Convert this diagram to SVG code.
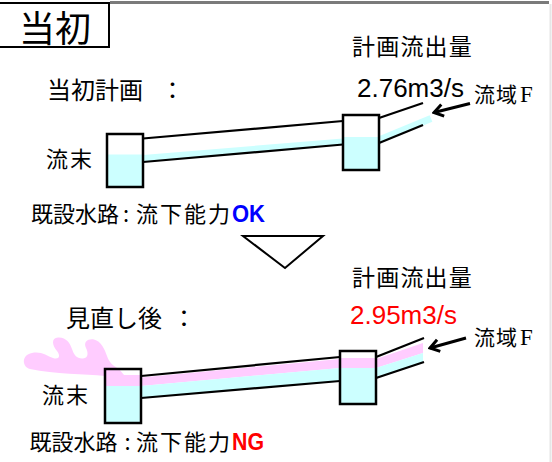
<svg xmlns="http://www.w3.org/2000/svg" width="552" height="462" viewBox="0 0 552 462">
  <style>
    .jp { font-family: "Noto Sans CJK JP", "Noto Sans", sans-serif; fill: #000; }
    .num { font-family: "Liberation Sans", Arial, sans-serif; }
    .serif { font-family: "Liberation Serif", "Times New Roman", serif; font-size: 23px; }
    .bold { font-family: "Liberation Sans", Arial, sans-serif; font-weight: bold; }
    .ln { stroke: #000; stroke-width: 2.2; fill: none; }
    .boxbg { fill: #fff; }
    .boxln { fill: none; stroke: #000; stroke-width: 2.5; }
    .cy { fill: #ccffff; }
    .pk { fill: #ffccff; }
    .arrow { stroke: #000; stroke-width: 3; fill: none; marker-end: url(#head); }
  </style>
  <defs>
    <marker id="head" markerUnits="userSpaceOnUse" viewBox="0 0 16 16" markerWidth="16" markerHeight="16" refX="14" refY="8" orient="auto">
      <path d="M5,2 L14,8 L5,14" fill="none" stroke="#000" stroke-width="3"/>
    </marker>
  </defs>

  <rect width="552" height="462" fill="#fff"/>
  <!-- frame -->
  <line x1="110" y1="2.5" x2="549" y2="2.5" stroke="#7a7a7a" stroke-width="3"/>
  <line x1="550.5" y1="4" x2="550.5" y2="462" stroke="#e6e6e6" stroke-width="2"/>

  <g id="title">
    <rect x="-2" y="3" width="111" height="44" fill="#fff" stroke="#000" stroke-width="2"/>
    <text class="jp" x="19" y="41.5" font-size="36">当初</text>
  </g>

  <!-- initial plan -->
  <g id="plan-initial">
    <text class="jp" x="47" y="98.5" font-size="24">当初計画 <tspan x="160.5">：</tspan></text>
    <text class="jp" x="352" y="54.5" font-size="23" letter-spacing="1.2">計画流出量</text>
    <text class="num" x="357" y="97" font-size="26">2.76m3/s</text>
    <text class="jp" x="474" y="102" font-size="21" letter-spacing="1">流域<tspan class="serif" x="520">F</tspan></text>
    <text class="jp" x="46" y="167" font-size="22" letter-spacing="2">流末</text>
    <text class="jp" y="222" font-size="22"><tspan x="31">既設水路</tspan><tspan x="123">:</tspan><tspan x="136" letter-spacing="2">流下能力</tspan><tspan class="bold" x="232" fill="#0000ff" font-size="24" textLength="33" lengthAdjust="spacingAndGlyphs">OK</tspan></text>
  </g>

  <g id="pipe-initial">
    <!-- water -->
    <polygon class="cy" points="143,155 343,138.5 343,144.5 143,162"/>
    <line x1="379" y1="140" x2="431" y2="118.4" stroke="#ccffff" stroke-width="7"/>
    <!-- walls -->
    <line class="ln" x1="143" y1="138.5" x2="343" y2="121"/>
    <line class="ln" x1="143" y1="162" x2="343" y2="144.5"/>
    <line class="ln" x1="379" y1="118" x2="423" y2="103"/>
    <line class="ln" x1="379" y1="143" x2="423" y2="125"/>
  </g>
  <g id="manhole-initial-down">
    <rect class="boxbg" x="107" y="134" width="36" height="53"/>
    <rect class="cy" x="107" y="154.5" width="36" height="32.5"/>
    <rect class="boxln" x="107" y="134" width="36" height="53"/>
  </g>
  <g id="manhole-initial-up">
    <rect class="boxbg" x="343" y="115" width="36" height="55"/>
    <rect class="cy" x="343" y="137" width="36" height="33"/>
    <rect class="boxln" x="343" y="115" width="36" height="55"/>
  </g>

  <g id="step">
    <polygon points="243,236 323,236 285,268" fill="#fff" stroke="#000" stroke-width="2"/>
  </g>

  <!-- revised plan -->
  <g id="plan-revised">
    <text class="jp" x="66" y="326.5" font-size="24">見直し後 <tspan x="172">：</tspan></text>
    <text class="jp" x="352" y="285.5" font-size="23" letter-spacing="1.2">計画流出量</text>
    <text class="num" x="350" y="324" font-size="26" fill="#ff0000">2.95m3/s</text>
    <text class="jp" x="474" y="345" font-size="21" letter-spacing="1">流域<tspan class="serif" x="520">F</tspan></text>
    <text class="jp" x="42" y="402.5" font-size="22" letter-spacing="2">流末</text>
    <text class="jp" y="449.5" font-size="22"><tspan x="29.5">既設水路</tspan><tspan x="124.5">:</tspan><tspan x="136" letter-spacing="2">流下能力</tspan><tspan class="bold" x="232" fill="#ff0000" font-size="24" textLength="32" lengthAdjust="spacingAndGlyphs">NG</tspan></text>
  </g>

  <g id="pipe-revised">
    <polygon class="pk" points="141,377.5 340,359 340,368 141,386"/>
    <polygon class="cy" points="141,386 340,368 340,381.5 141,398"/>
    <polygon class="pk" points="376,359 423,343 423,353 376,368"/>
    <polygon class="cy" points="376,368 423,353 423,362 376,378"/>
    <line class="ln" x1="141" y1="376" x2="340" y2="357"/>
    <line class="ln" x1="141" y1="398" x2="340" y2="381"/>
    <line class="ln" x1="376" y1="357" x2="424" y2="338"/>
    <line class="ln" x1="376" y1="378" x2="424" y2="362"/>
  </g>
  <g id="manhole-revised-down">
    <rect class="boxbg" x="105" y="369" width="36" height="54"/>
    <rect class="pk" x="105" y="375" width="36" height="11"/>
    <rect class="cy" x="105" y="386" width="36" height="37"/>
    <!-- overflow splash -->
    <path class="pk" d="M30,369 C22,367 21,355 32,353 C41,351 47,356 53,358 C59,360 61,356 57,351 C52,345 51,338 58,337.5 C66,337 70,343 72,349 C74,355 77,359 83,358.5 C89,358 88,352 86,348 C83,342 88,338.5 94,339.5 C101,341 105,350 107,356 C109,362 113,366 119,369 L124,375 L105,376 C85,374 55,374 30,369 Z"/>
    <rect class="boxln" x="105" y="369" width="36" height="54"/>
  </g>
  <g id="manhole-revised-up">
    <rect class="boxbg" x="340" y="351" width="36" height="53"/>
    <rect class="pk" x="340" y="358" width="36" height="10"/>
    <rect class="cy" x="340" y="368" width="36" height="36"/>
    <rect class="boxln" x="340" y="351" width="36" height="53"/>
  </g>

  <g id="connectors">
    <line class="arrow" x1="470" y1="103.5" x2="434" y2="112.5"/>
    <line class="arrow" x1="466" y1="338" x2="430" y2="348"/>
  </g>
</svg>
